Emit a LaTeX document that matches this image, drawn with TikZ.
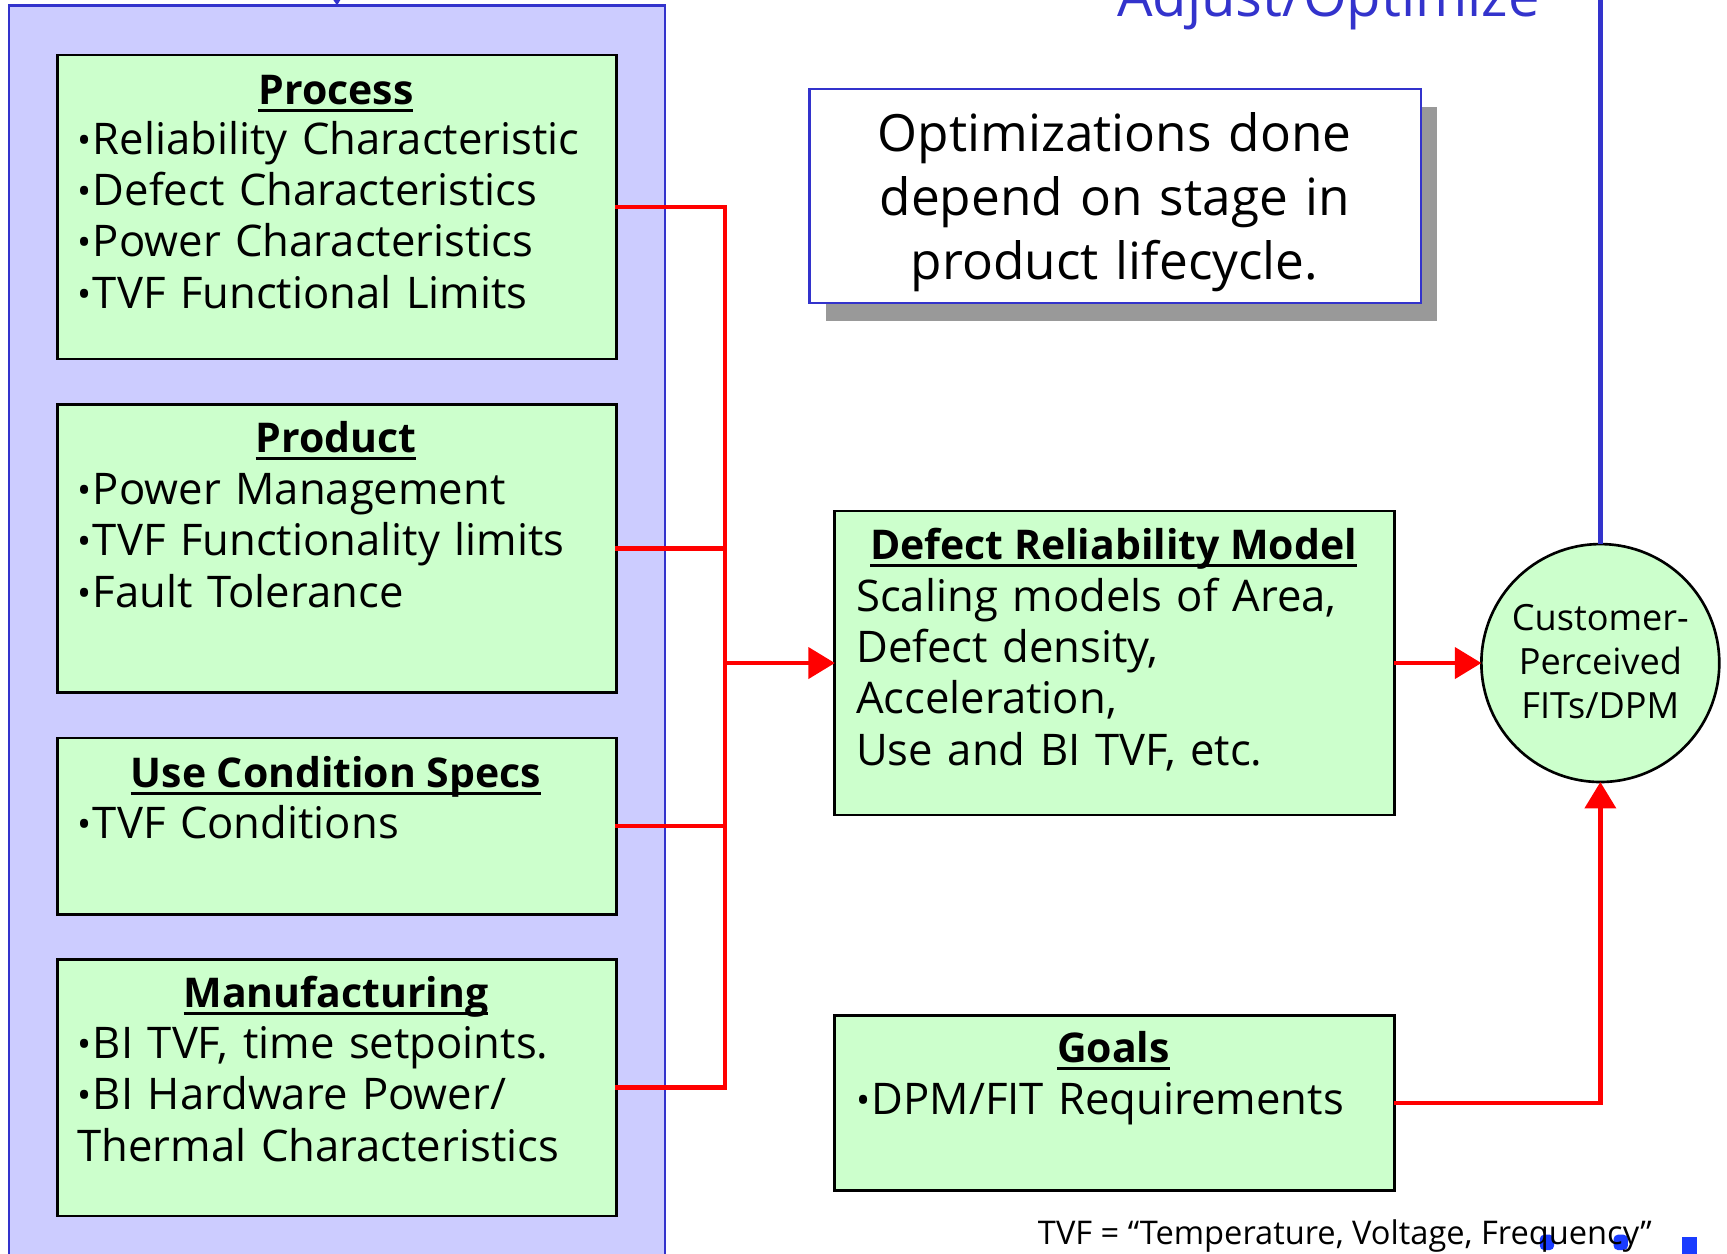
\documentclass[tikz,border=0pt]{standalone}
\usepackage{fontspec}
\setmainfont{Open Sans}
\usetikzlibrary{arrows.meta,shadows}
\definecolor{lavender}{HTML}{CCCCFF}
\definecolor{frameblue}{HTML}{3333CC}
\definecolor{mint}{HTML}{CCFFCC}
\definecolor{shadowgray}{HTML}{999999}
\definecolor{logoblue}{HTML}{1A3CFF}
\definecolor{feedred}{HTML}{FF0000}
% heading with a thick underline
\newcommand\hd[1]{\setbox0=\hbox{#1}\rlap{\vrule height -2pt depth 3.4pt width \wd0}\box0}
% list bullet
\newcommand\bu{\raisebox{0.4pt}{\fontsize{17}{17}\selectfont\textbullet}\hspace{0.6pt}}
\newcommand\bodyfont{\fontsize{19.8}{23.3}\selectfont}
\newcommand\headfont{\fontsize{18.6}{23.3}\selectfont\bfseries}
\begin{document}
\begin{tikzpicture}[x=0.5pt,y=-0.5pt,
  panel/.style={draw=frameblue,fill=lavender,line width=1pt,anchor=north west,inner sep=0pt,outer sep=0pt},
  gbox/.style={draw=black,fill=mint,line width=1.3pt,anchor=north west,inner sep=0pt,outer sep=0pt,minimum width=254pt},
  ttl/.style={anchor=base,inner sep=0pt,font=\headfont},
  txt/.style={anchor=base west,text width=260pt,align=left,inner sep=0pt,font=\bodyfont},
  feed/.style={draw=feedred,line width=2pt,line cap=rect},
  feedarrow/.style={draw=feedred,line width=2pt,-{Triangle[length=12pt,width=14pt]}},
  backline/.style={draw=frameblue,line width=2pt},
]
\useasboundingbox (0,0) rectangle (1568,1138);

% input panel and its four groups
\node[panel,minimum width=298pt,minimum height=600pt] (panel) at (8,5) {};
\node[gbox,minimum height=138pt] (proc) at (52,50) {};
\node[gbox,minimum height=131pt] (prod) at (52,367) {};
\node[gbox,minimum height=80pt] (use) at (52,670) {};
\node[gbox,minimum height=116.5pt] (manu) at (52,871) {};

\node[ttl] (proc-t) at (305,95) {\hd{Process}};
\node[txt] (proc-b) at (70,140) {\bu Reliability Characteristic\\ \bu Defect Characteristics\\ \bu Power Characteristics\\ \bu TVF Functional Limits};
\node[ttl] (prod-t) at (305,411) {\hd{Product}};
\node[txt] (prod-b) at (70,458) {\bu Power Management\\ \bu TVF Functionality limits\\ \bu Fault Tolerance};
\node[ttl] (use-t) at (305,715) {\hd{Use Condition Specs}};
\node[txt] (use-b) at (70,761) {\bu TVF Conditions};
\node[ttl] (manu-t) at (305,915) {\hd{Manufacturing}};
\node[txt] (manu-b) at (70,961) {\bu BI TVF, time setpoints.\\ \bu BI Hardware Power/\\ Thermal Characteristics};

% model, goals and result
\node[gbox,minimum height=138pt] (drm) at (758,464) {};
\node[ttl] (drm-t) at (1011,508) {\hd{Defect Reliability Model}};
\node[txt] (drm-b) at (777,555) {Scaling models of Area,\\ Defect density,\\ Acceleration,\\ Use and BI TVF, etc.};
\node[gbox,minimum height=79.5pt] (goals) at (758,922) {};
\node[ttl] (goals-t) at (1011,965) {\hd{Goals}};
\node[txt] (goals-b) at (777,1012) {\bu DPM/FIT Requirements};
\node[circle,draw=black,fill=mint,line width=1.2pt,minimum size=108pt,inner sep=0pt,outer sep=0pt] (cust) at (1453,602) {};
\node[anchor=base,align=center,text width=100pt,inner sep=0pt,font=\fontsize{16.4}{20}\selectfont] (cust-t) at (1453,572) {Customer-\\Perceived\\FITs/DPM};

% note box with shadow
\node[draw=frameblue,fill=white,line width=1pt,anchor=north west,inner sep=0pt,outer sep=0pt,
      minimum width=277.5pt,minimum height=97pt,
      drop shadow={shadow xshift=7.5pt,shadow yshift=-8pt,fill=shadowgray,opacity=1}] (opt) at (735,81) {};
\node[anchor=base,align=center,text width=270pt,inner sep=0pt,font=\fontsize{23.3}{29}\selectfont] (opt-t) at (1012,138) {Optimizations done\\depend on stage in\\product lifecycle.};

% feedback label
\node[anchor=base,inner sep=0pt,text=frameblue,font=\fontsize{25.5}{29}\selectfont] (adj) at (1206,15) {Adjust/Optimize};

% red input bus
\coordinate (busx) at (658,0);
\draw[feed] (proc.east) -- (proc.east -| busx);
\draw[feed] (prod.east) -- (prod.east -| busx);
\draw[feed] (use.east) -- (use.east -| busx);
\draw[feed] (manu.east) -- (manu.east -| busx);
\draw[feed] (proc.east -| busx) -- (manu.east -| busx);
\draw[feedarrow] (drm.west -| busx) -- (drm.west);
\draw[feedarrow] (drm.east) -- (cust.west);
\draw[feedarrow] (goals.east) -| (cust.south);

% blue feedback path
\coordinate (loopend) at (1453,-40);
\coordinate (feedin) at (305,-40);
\draw[backline] (cust.north) -- (loopend);
\draw[backline,-{Triangle[length=5pt,width=6pt]}] (feedin) -- (panel.north);

% logo fragments at the lower edge
\fill[logoblue,rounded corners=2pt] (1398,1121) rectangle (1411,1135);
\fill[logoblue,rounded corners=2pt] (1465,1121) rectangle (1478,1135);
\fill[logoblue] (1527,1123) rectangle (1541,1140);

% footnote
\node[anchor=base west,inner sep=0pt,font=\fontsize{14.8}{16}\selectfont] (fn) at (942,1130) {TVF = “Temperature, Voltage, Frequency”};
\end{tikzpicture}
\end{document}
